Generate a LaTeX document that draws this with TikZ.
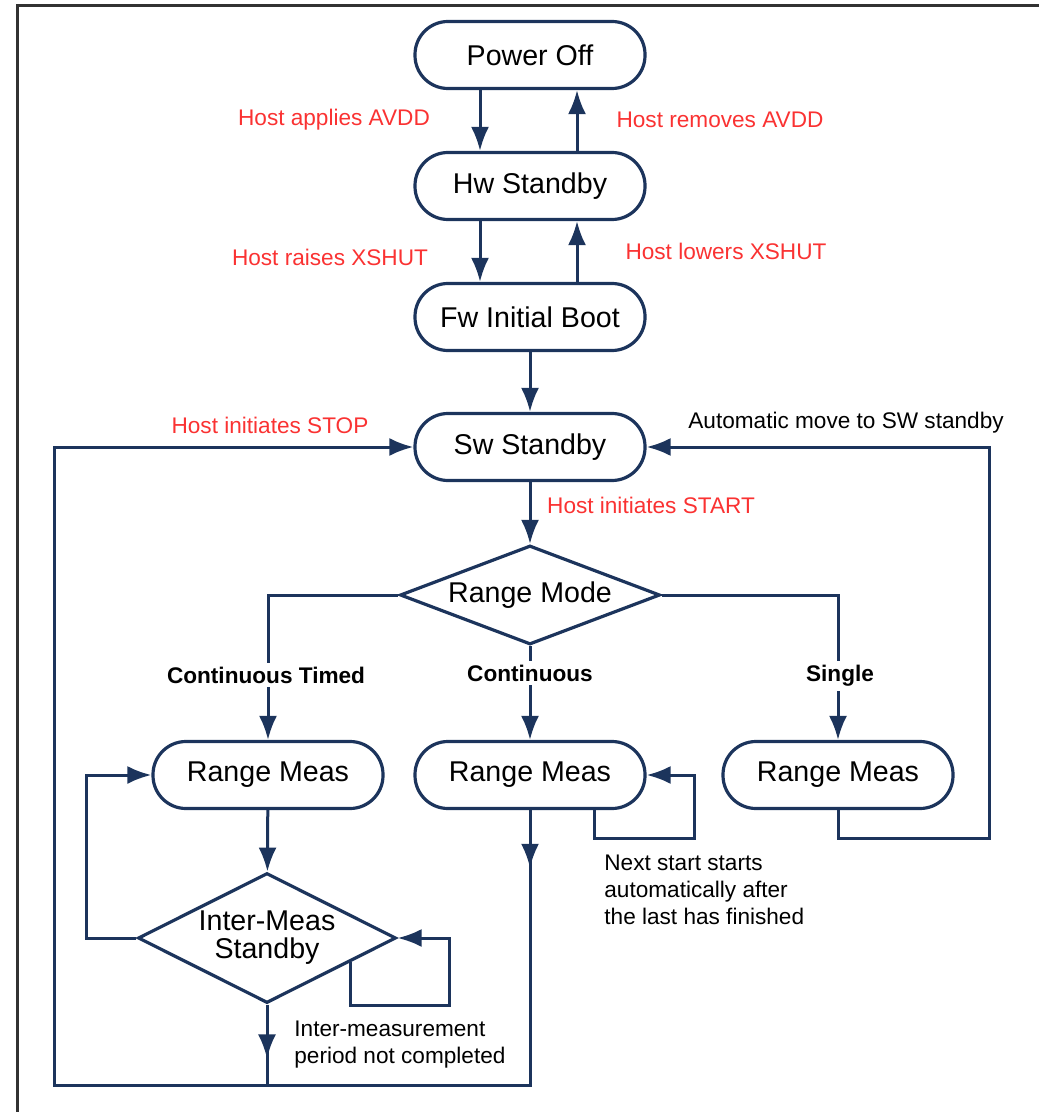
\documentclass[tikz,border=0pt]{standalone}
\usepackage{fontspec}
\setmainfont{Liberation Sans}
\usetikzlibrary{arrows.meta, shapes.geometric, decorations.markings}
\definecolor{navy}{RGB}{28,52,92}
\definecolor{hostred}{RGB}{250,50,50}
\definecolor{framegray}{RGB}{50,50,50}
\newcommand{\statefont}{\fontsize{14.3}{14}\selectfont}
\newcommand{\labelfont}{\fontsize{11.3}{13.5}\selectfont}

\tikzset{
  state/.style={draw=navy, line width=1.6pt, rounded corners=16.5pt, minimum width=115pt, minimum height=33.5pt, inner sep=0pt, font=\statefont},
  decision/.style={draw=navy, line width=1.6pt, diamond, inner sep=0pt, align=center, font=\statefont},
  flow/.style={navy, line width=1.5pt},
  arr/.style={flow, -{Latex[length=12pt,width=9pt]}},
  midarrow/.style={postaction={decorate}, decoration={markings, mark=at position #1 with {\arrow{Latex[length=12pt,width=9pt]}}}},
  hostlabel/.style={text=hostred, font=\labelfont, inner sep=0pt},
  modelabel/.style={fill=white, font=\labelfont\bfseries, inner sep=2pt},
  note/.style={font=\labelfont, align=left, anchor=west, inner sep=0pt}
}

\begin{document}
\begin{tikzpicture}[x=0.5pt, y=-0.5pt]
    \useasboundingbox (0,0) rectangle (1039,1112);
    \draw[framegray, line width=1.5pt] (17,1112) -- (17,6) -- (1039,6);

    % states
    \node[state] (poff) at (530,55) {Power Off};
    \node[state] (hws) at (530,186) {Hw Standby};
    \node[state] (fwb) at (530,317) {Fw Initial Boot};
    \node[state] (sws) at (530,447) {Sw Standby};
    \node[decision, minimum width=130pt, minimum height=49.5pt, aspect=2.6] (mode) at (530,595) {Range Mode};
    \node[state] (rmt) at (268,775) {Range Meas};
    \node[state] (rmc) at (530,775) {Range Meas};
    \node[state] (rms) at (838,775) {Range Meas};
    \node[decision, minimum width=129pt, minimum height=65pt, aspect=2] (ims) at (267,938) {Inter-Meas\\Standby};

    % corners of the return paths
    \coordinate (cbl) at (54,1085);
    \coordinate (cbm) at (267,1085);
    \coordinate (cbr) at (530,1085);
    \coordinate (cll) at (86,775);
    \coordinate (cml) at (694,838);
    \coordinate (crl) at (989,838);
    \coordinate (cil) at (449,1005);

    % power up / down
    \draw[arr] ([xshift=-25pt]poff.south) -- ([xshift=-25pt]hws.north);
    \draw[arr] ([xshift=23.5pt]hws.north) -- ([xshift=23.5pt]poff.south);
    \draw[arr] ([xshift=-25pt]hws.south) -- ([xshift=-25pt]fwb.north);
    \draw[arr] ([xshift=23.5pt]fwb.north) -- ([xshift=23.5pt]hws.south);
    \draw[arr] (fwb) -- (sws);
    \draw[arr] (sws) -- (mode);

    % range modes
    \draw[arr] (mode.west) -| (rmt.north);
    \draw[arr] (mode.south) -- (rmc.north);
    \draw[arr] (mode.east) -| (rms.north);
    \draw[arr] (rmt) -- (ims);
    \draw[arr] (ims.west) -| (cll) -- (rmt.west);
    \draw[arr] (ims.-16) |- (cil) |- (ims.east);
    \draw[arr] ([xshift=32pt]rmc.south) |- (cml) |- (rmc.east);
    \draw[arr] (rms.south) |- (crl) |- (sws.east);
    \draw[flow, midarrow=0.21] (rmc.south) -- (cbr);
    \draw[flow, midarrow=0.67] (ims.south) -- (cbm);
    \draw[arr, line cap=rect] (cbr) -- (cbl) |- (sws.west);

    % labels
    \node[hostlabel] (lapp) at (334,120) {Host applies AVDD};
    \node[hostlabel] (lrem) at (720,120) {Host removes AVDD};
    \node[hostlabel] (lrai) at (330,257) {Host raises XSHUT};
    \node[hostlabel] (llow) at (726,251) {Host lowers XSHUT};
    \node[hostlabel] (lstop) at (270,425) {Host initiates STOP};
    \node[hostlabel] (lstart) at (651,505) {Host initiates START};
    \node[font=\labelfont, inner sep=0pt] (lauto) at (846,423) {Automatic move to SW standby};
    \node[modelabel] (lct) at (266,675) {Continuous Timed};
    \node[modelabel] (lc) at (530,673) {Continuous};
    \node[modelabel] (ls) at (840,676) {Single};
    \node[note] (nnext) at (604,890) {Next start starts\\automatically after\\the last has finished};
    \node[note] (ninter) at (294,1045) {Inter-measurement\\period not completed};
\end{tikzpicture}
\end{document}
